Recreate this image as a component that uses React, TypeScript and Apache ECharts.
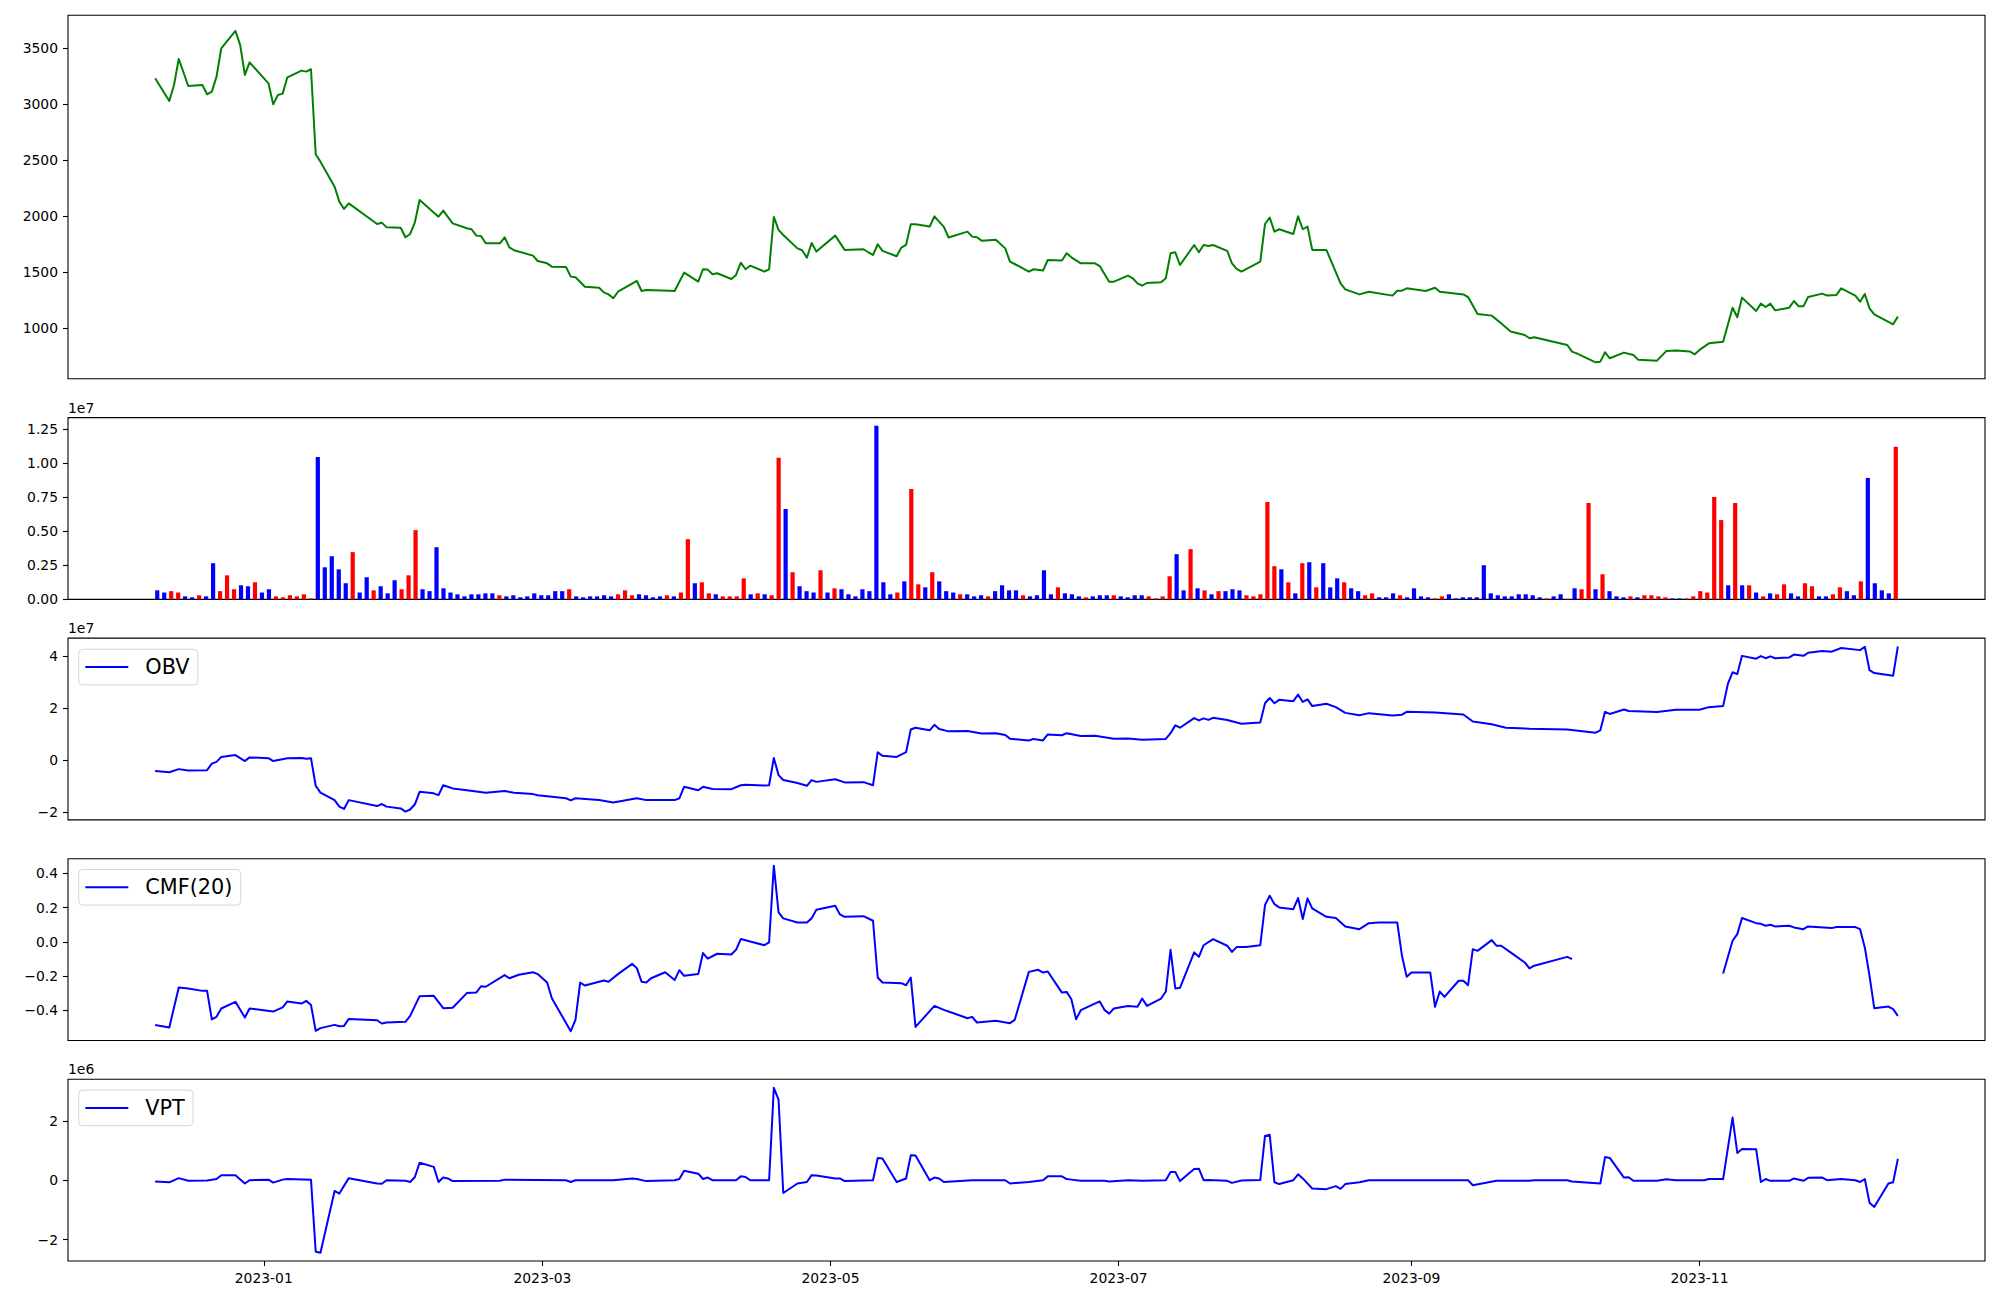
import React, { useEffect, useRef } from "react";
import * as echarts from "echarts";

const FONT = "DejaVu Sans";

// ---- x categories: KRX trading days between these dates ----
const START_DATE = "2022-12-09";
const END_DATE = "2023-12-13";
const KRX_HOLIDAYS = [
  "2022-12-30", "2023-01-23", "2023-01-24", "2023-03-01", "2023-05-01", "2023-05-05",
  "2023-05-29", "2023-06-06", "2023-08-15", "2023-09-28", "2023-09-29", "2023-10-02",
  "2023-10-03", "2023-10-09",
];
const X_TICK_MONTHS = ["2023-01", "2023-03", "2023-05", "2023-07", "2023-09", "2023-11"];

// ---- tick labels ----
const PRICE_TICKS = [1000, 1500, 2000, 2500, 3000, 3500];
const VOLUME_TICKS_E7 = [0, 0.25, 0.5, 0.75, 1.0, 1.25];
const OBV_TICKS_E7 = [-2, 0, 2, 4];
const CMF_TICKS = [-0.4, -0.2, 0, 0.2, 0.4];
const VPT_TICKS_E6 = [-2, 0, 2];

// ---- volume (x1e7), one bar per trading day ----
const VOLUME_E7 = [
  0.066, 0.05, 0.06, 0.05, 0.022, 0.015, 0.03, 0.022, 0.265, 0.06,
  0.176, 0.074, 0.103, 0.096, 0.125, 0.05, 0.074, 0.022, 0.015, 0.03,
  0.022, 0.037, 0.007, 1.044, 0.235, 0.316, 0.22, 0.118, 0.346, 0.05,
  0.162, 0.066, 0.096, 0.044, 0.14, 0.074, 0.176, 0.507, 0.074, 0.06,
  0.382, 0.081, 0.05, 0.037, 0.022, 0.037, 0.037, 0.044, 0.044, 0.03,
  0.022, 0.03, 0.015, 0.022, 0.044, 0.03, 0.03, 0.06, 0.06, 0.074,
  0.022, 0.015, 0.022, 0.022, 0.03, 0.022, 0.037, 0.066, 0.03, 0.037,
  0.03, 0.015, 0.022, 0.03, 0.022, 0.05, 0.441, 0.118, 0.125, 0.044,
  0.037, 0.022, 0.022, 0.022, 0.154, 0.037, 0.044, 0.037, 0.03, 1.037,
  0.662, 0.199, 0.096, 0.06, 0.05, 0.213, 0.05, 0.081, 0.074, 0.037,
  0.022, 0.074, 0.06, 1.272, 0.125, 0.037, 0.05, 0.132, 0.809, 0.11,
  0.088, 0.199, 0.132, 0.06, 0.05, 0.037, 0.037, 0.022, 0.03, 0.022,
  0.06, 0.103, 0.066, 0.066, 0.03, 0.022, 0.03, 0.213, 0.037, 0.088,
  0.044, 0.037, 0.022, 0.015, 0.022, 0.03, 0.03, 0.03, 0.022, 0.015,
  0.03, 0.03, 0.022, 0.007, 0.022, 0.169, 0.331, 0.066, 0.368, 0.081,
  0.066, 0.037, 0.06, 0.06, 0.074, 0.066, 0.03, 0.022, 0.037, 0.713,
  0.243, 0.22, 0.125, 0.044, 0.265, 0.272, 0.088, 0.265, 0.088, 0.154,
  0.125, 0.081, 0.06, 0.03, 0.044, 0.015, 0.015, 0.044, 0.03, 0.015,
  0.081, 0.022, 0.015, 0.007, 0.022, 0.037, 0.007, 0.015, 0.015, 0.015,
  0.25, 0.044, 0.03, 0.022, 0.022, 0.037, 0.037, 0.03, 0.015, 0.007,
  0.022, 0.037, 0.003, 0.081, 0.074, 0.706, 0.074, 0.184, 0.06, 0.022,
  0.015, 0.022, 0.015, 0.03, 0.03, 0.022, 0.015, 0.007, 0.007, 0.007,
  0.022, 0.06, 0.05, 0.75, 0.581, 0.103, 0.706, 0.103, 0.103, 0.05,
  0.022, 0.044, 0.037, 0.11, 0.044, 0.022, 0.118, 0.096, 0.022, 0.022,
  0.037, 0.088, 0.06, 0.03, 0.132, 0.89, 0.118, 0.066, 0.044, 1.118,
];
const VOLUME_COLOR =
  "BBRRBBRBBR" + "RRBBRBBRRR" + "RRRBBBBBRB" + "BRBBBRRRBB" + "BBBBBBBBBR" +
  "BBBBBBBBBR" + "BBBBBBRRRB" + "BBBRBRRBRR" + "BRRRRBRBRR" + "BRBBBRBRBB" +
  "BBBBBBRBRR" + "BRBBBRBBBR" + "BBBBRBBBBR" + "BBBRBBBRBB" + "BBRRRRBBRB" +
  "RBRBBBRRRR" + "RBRBRBRBBB" + "RBBRRBBBRB" + "BBBRRBBBBB" + "BBBBBBBBBR" +
  "BBRBRRBRBB" + "BRBRRRRBBR" + "RRRRRBRBRB" + "RBRRBBRRBB" + "RRBBRBBBBR";

// ---- line series: [trading-day index, value] ----
const PRICE = [
  [0, 3233], [1, 3030], [2, 3173], [3, 3406], [4, 3287], [5, 3164], [6, 3173], [7, 3090], [8, 3114], [9, 3248],
  [10, 3502], [11, 3657], [12, 3532], [13, 3263], [14, 3376], [15, 3188], [16, 3000], [17, 3084], [18, 3096], [19, 3242],
  [20, 3302], [21, 3293], [22, 3314], [23, 2553], [24, 2487], [25, 2263], [26, 2129], [27, 2064], [28, 2114], [30, 1929],
  [31, 1941], [32, 1899], [33, 1896], [34, 1810], [35, 1840], [36, 1944], [37, 2144], [39, 1995], [40, 2049], [42, 1935],
  [43, 1891], [44, 1882], [45, 1825], [46, 1822], [47, 1756], [48, 1756], [49, 1810], [50, 1720], [51, 1694], [53, 1646],
  [54, 1598], [55, 1577], [56, 1547], [57, 1544], [58, 1458], [59, 1452], [61, 1368], [62, 1359], [63, 1317], [64, 1299],
  [65, 1264], [66, 1323], [68, 1419], [69, 1329], [70, 1338], [73, 1332], [74, 1329], [76, 1494], [77, 1414], [78, 1524],
  [79, 1521], [80, 1479], [81, 1488], [82, 1437], [83, 1473], [84, 1583], [85, 1524], [86, 1556], [87, 1503], [88, 1524],
  [89, 1992], [90, 1876], [91, 1831], [92, 1711], [93, 1694], [94, 1628], [95, 1759], [96, 1682], [97, 1825], [99, 1697],
  [100, 1703], [101, 1676], [102, 1652], [103, 1748], [104, 1688], [105, 1640], [106, 1718], [107, 1742], [108, 1927], [109, 1927],
  [110, 1906], [111, 1998], [113, 1903], [114, 1808], [115, 1861], [116, 1816], [117, 1810], [118, 1780], [119, 1789], [120, 1711],
  [121, 1592], [122, 1571], [123, 1503], [124, 1524], [126, 1512], [127, 1607], [128, 1603], [129, 1667], [130, 1631], [132, 1577],
  [133, 1577], [134, 1553], [136, 1413], [137, 1413], [138, 1467], [139, 1443], [140, 1398], [141, 1377], [142, 1401], [143, 1407],
  [144, 1443], [145, 1667], [146, 1676], [147, 1562], [148, 1741], [149, 1676], [150, 1741], [151, 1732], [152, 1741], [153, 1688],
  [154, 1577], [155, 1527], [156, 1503], [158, 1592], [159, 1929], [160, 1986], [161, 1861], [162, 1882], [163, 1840], [164, 1998],
  [165, 1882], [166, 1906], [167, 1697], [168, 1697], [170, 1398], [171, 1344], [172, 1299], [174, 1323], [177, 1288], [178, 1332],
  [179, 1332], [180, 1353], [182, 1329], [184, 1359], [185, 1323], [188, 1299], [189, 1275], [191, 1124], [192, 1109], [194, 1040],
  [196, 966], [197, 936], [198, 906], [199, 915], [200, 846], [201, 787], [202, 771], [203, 691], [204, 697], [205, 781],
  [206, 727], [207, 778], [209, 757], [210, 715], [212, 706], [214, 793], [216, 796], [217, 787], [218, 763], [219, 802],
  [221, 861], [222, 876], [224, 1180], [225, 1094], [226, 1270], [227, 1151], [228, 1216], [229, 1186], [230, 1216], [231, 1156],
  [232, 1180], [233, 1240], [234, 1192], [235, 1192], [236, 1276], [237, 1306], [238, 1288], [240, 1294], [241, 1353], [242, 1288],
  [243, 1234], [244, 1303], [245, 1174], [246, 1121], [248, 1031], [249, 1100],
];

const OBV_E7 = [
  [0, -0.41], [1, -0.46], [3, -0.34], [5, -0.39], [7, -0.38], [8, -0.13], [9, -0.06], [10, 0.13], [11, 0.2], [13, -0.03],
  [14, 0.11], [15, 0.08], [16, -0.03], [19, 0.08], [20, 0.09], [21, 0.06], [22, 0.08], [23, -0.98], [24, -1.24], [25, -1.53],
  [26, -1.78], [27, -1.87], [28, -1.53], [30, -1.76], [31, -1.68], [32, -1.78], [33, -1.85], [34, -1.97], [35, -1.89], [36, -1.69],
  [37, -1.21], [38, -1.27], [39, -1.34], [40, -0.96], [42, -1.08], [43, -1.15], [47, -1.25], [49, -1.18], [51, -1.25], [53, -1.3],
  [54, -1.34], [57, -1.46], [58, -1.54], [59, -1.46], [62, -1.53], [65, -1.62], [68, -1.46], [70, -1.53], [74, -1.53], [75, -1.46],
  [76, -1.02], [77, -1.15], [78, -1.02], [80, -1.1], [82, -1.11], [84, -0.96], [85, -0.94], [87, -0.97], [88, -0.96], [89, 0.09],
  [90, -0.57], [91, -0.76], [92, -0.87], [94, -0.98], [95, -0.76], [96, -0.83], [97, -0.73], [99, -0.85], [100, -0.84], [102, -0.96],
  [103, 0.31], [104, 0.17], [105, 0.13], [107, 0.31], [108, 1.18], [109, 1.25], [110, 1.15], [111, 1.36], [112, 1.2], [114, 1.11],
  [115, 1.12], [118, 1.03], [119, 1.04], [120, 0.97], [121, 0.83], [123, 0.76], [124, 0.82], [126, 0.76], [127, 0.99], [128, 0.96],
  [129, 1.04], [132, 0.93], [133, 0.94], [137, 0.83], [138, 0.84], [141, 0.79], [144, 0.82], [145, 1.04], [146, 1.34], [147, 1.25],
  [148, 1.62], [149, 1.53], [150, 1.61], [151, 1.55], [152, 1.63], [153, 1.55], [156, 1.4], [158, 1.45], [159, 2.19], [160, 2.39],
  [161, 2.19], [162, 2.32], [163, 2.27], [164, 2.52], [165, 2.24], [166, 2.34], [167, 2.08], [168, 2.17], [169, 2.04], [171, 1.82],
  [172, 1.73], [174, 1.81], [177, 1.72], [179, 1.75], [180, 1.86], [184, 1.83], [188, 1.76], [190, 1.49], [192, 1.38], [195, 1.25],
  [198, 1.21], [200, 1.18], [203, 1.06], [204, 1.15], [205, 1.86], [206, 1.78], [207, 1.95], [208, 1.89], [212, 1.85], [216, 1.94],
  [219, 1.94], [221, 2.04], [222, 2.08], [223, 2.93], [224, 3.38], [225, 3.31], [226, 4.01], [227, 3.9], [228, 4.0], [229, 3.92],
  [230, 3.99], [231, 3.92], [232, 3.95], [233, 4.06], [235, 4.01], [236, 4.13], [237, 4.2], [239, 4.17], [241, 4.31], [243, 4.23],
  [244, 4.36], [245, 3.46], [246, 3.35], [248, 3.25], [249, 4.37],
];

const CMF20 = [
  [0, -0.486], [1, -0.501], [3, -0.267], [5, -0.273], [6, -0.287], [7, -0.287], [8, -0.453], [9, -0.439], [10, -0.39], [11, -0.351],
  [13, -0.443], [14, -0.39], [16, -0.408], [18, -0.384], [19, -0.349], [20, -0.361], [21, -0.345], [22, -0.369], [23, -0.521], [24, -0.505],
  [25, -0.486], [26, -0.494], [27, -0.492], [28, -0.451], [30, -0.459], [31, -0.478], [32, -0.472], [34, -0.468], [35, -0.433], [37, -0.318],
  [38, -0.316], [40, -0.388], [42, -0.386], [43, -0.3], [45, -0.297], [46, -0.26], [47, -0.263], [49, -0.195], [50, -0.213], [52, -0.193],
  [53, -0.178], [54, -0.189], [55, -0.238], [56, -0.33], [58, -0.523], [59, -0.457], [60, -0.238], [61, -0.256], [63, -0.226], [64, -0.234],
  [66, -0.189], [67, -0.129], [68, -0.154], [69, -0.234], [70, -0.238], [71, -0.213], [72, -0.178], [74, -0.224], [75, -0.166], [76, -0.199],
  [77, -0.189], [78, -0.066], [79, -0.098], [81, -0.07], [82, -0.074], [83, -0.047], [84, 0.016], [86, 0.002], [87, -0.02], [88, -0.004],
  [89, 0.445], [90, 0.172], [91, 0.137], [92, 0.113], [94, 0.113], [95, 0.137], [96, 0.187], [97, 0.211], [98, 0.16], [99, 0.146],
  [100, 0.15], [102, 0.123], [103, -0.209], [104, -0.238], [106, -0.242], [107, -0.254], [108, -0.209], [109, -0.498], [111, -0.375], [113, -0.398],
  [114, -0.408], [115, -0.447], [116, -0.439], [117, -0.472], [119, -0.462], [121, -0.476], [122, -0.457], [123, -0.176], [125, -0.164], [126, -0.18],
  [127, -0.174], [128, -0.297], [129, -0.293], [130, -0.336], [131, -0.453], [132, -0.4], [134, -0.349], [135, -0.398], [136, -0.42], [137, -0.39],
  [138, -0.375], [140, -0.38], [141, -0.332], [142, -0.375], [143, -0.332], [144, -0.291], [145, -0.047], [146, -0.273], [147, -0.269], [148, -0.062],
  [149, -0.088], [150, -0.02], [152, 0.016], [153, -0.023], [154, -0.059], [155, -0.031], [157, -0.031], [158, -0.02], [159, 0.215], [160, 0.269],
  [161, 0.22], [162, 0.201], [163, 0.191], [164, 0.256], [165, 0.133], [166, 0.254], [167, 0.195], [168, 0.146], [169, 0.139], [171, 0.09],
  [172, 0.074], [174, 0.109], [176, 0.113], [178, 0.113], [179, -0.082], [180, -0.205], [181, -0.18], [183, -0.18], [184, -0.38], [185, -0.291],
  [186, -0.322], [187, -0.228], [188, -0.228], [189, -0.254], [190, -0.043], [191, -0.053], [192, 0.01], [193, -0.023], [194, -0.023], [196, -0.062],
  [197, -0.121], [198, -0.156], [199, -0.14], [200, -0.088], [201, -0.101], [202, null], [222, -0.185], [224, 0.006], [225, 0.045], [226, 0.139],
  [227, 0.109], [228, 0.105], [229, 0.094], [230, 0.1], [231, 0.09], [232, 0.094], [233, 0.084], [235, 0.074], [236, 0.09], [239, 0.08],
  [240, 0.086], [242, 0.086], [243, 0.074], [244, -0.033], [245, -0.199], [246, -0.388], [247, -0.379], [248, -0.394], [249, -0.433],
];

const VPT_E6 = [
  [0, -0.04], [1, -0.07], [3, 0.07], [5, -0.02], [7, -0.01], [9, 0.04], [10, 0.17], [11, 0.17], [13, -0.11], [14, 0.0],
  [15, 0.02], [16, -0.08], [18, 0.02], [19, 0.04], [22, 0.02], [23, -2.41], [24, -2.44], [25, -0.36], [26, -0.45], [28, 0.07],
  [30, -0.11], [31, -0.12], [32, 0.0], [34, -0.02], [35, -0.06], [36, 0.11], [37, 0.59], [38, 0.45], [39, -0.06], [40, 0.09],
  [41, 0.06], [42, -0.03], [48, -0.02], [49, 0.02], [57, 0.0], [58, -0.06], [59, 0.0], [65, 0.0], [67, 0.06], [68, 0.04],
  [70, -0.03], [74, 0.0], [75, 0.04], [76, 0.32], [77, 0.22], [78, 0.04], [79, 0.09], [80, 0.0], [83, 0.0], [84, 0.13],
  [85, 0.11], [86, 0.0], [88, 0.0], [89, 3.11], [90, 2.71], [91, -0.43], [92, -0.11], [94, -0.06], [95, 0.17], [96, 0.16],
  [97, 0.06], [98, 0.06], [99, -0.03], [102, 0.0], [103, 0.75], [104, 0.73], [105, -0.06], [107, 0.06], [108, 0.84], [109, 0.83],
  [110, 0.0], [111, 0.09], [112, 0.06], [113, -0.06], [116, 0.0], [120, 0.0], [121, -0.11], [123, -0.06], [126, 0.0], [127, 0.13],
  [128, 0.13], [129, 0.04], [130, 0.02], [132, -0.02], [135, -0.02], [136, -0.04], [138, 0.0], [141, -0.02], [144, 0.0], [145, 0.28],
  [146, 0.28], [147, -0.03], [148, 0.38], [149, 0.39], [150, 0.0], [151, 0.01], [153, -0.02], [154, -0.09], [156, -0.01], [158, 0.01],
  [159, 1.49], [160, 1.53], [161, -0.07], [162, -0.13], [163, 0.0], [164, 0.2], [165, 0.06], [167, -0.28], [168, -0.3], [169, -0.2],
  [170, -0.29], [171, -0.13], [172, -0.07], [174, 0.0], [189, 0.0], [190, -0.17], [193, -0.02], [198, -0.02], [199, 0.0], [200, 0.0],
  [201, -0.04], [204, -0.11], [205, 0.78], [206, 0.75], [207, 0.09], [208, 0.1], [209, -0.02], [212, -0.02], [214, 0.03], [216, 0.0],
  [220, 0.0], [221, 0.04], [222, 0.04], [224, 2.11], [225, 0.92], [226, 1.05], [227, 1.04], [228, -0.06], [229, 0.04], [230, -0.02],
  [232, -0.02], [233, 0.06], [235, -0.02], [236, 0.08], [237, 0.09], [238, 0.0], [241, 0.04], [242, 0.0], [243, -0.06], [244, 0.04],
  [245, -0.76], [246, -0.9], [247, -0.11], [248, -0.07], [249, 0.72],
];

// ---------------------------------------------------------------
const DAY_MS = 86400000;

function buildTradingDays(): number[] {
  const hol = new Set(KRX_HOLIDAYS);
  const t0 = Date.parse(START_DATE + "T00:00:00Z");
  const t1 = Date.parse(END_DATE + "T00:00:00Z");
  const out: number[] = [];
  for (let t = t0; t <= t1; t += DAY_MS) {
    const d = new Date(t);
    const wd = d.getUTCDay();
    const iso = d.toISOString().slice(0, 10);
    if (wd !== 0 && wd !== 6 && !hol.has(iso)) out.push(t);
  }
  return out;
}

const minus = (s: string) => s.replace("-", "\u2212");
const fmtFixed = (d: number) => (v: number) => minus(Number(v).toFixed(d));
const fmtMonth = (v: number) => {
  const d = new Date(Number(v));
  return d.getUTCFullYear() + "-" + String(d.getUTCMonth() + 1).padStart(2, "0");
};

function buildOption() {
  const days = buildTradingDays();
  const n = VOLUME_E7.length;
  const t0 = days[0];
  const t1 = days[days.length - 1];
  const pad = 0.05 * (t1 - t0);
  const barUnits = 0.6;
  const vSpan = n - 1 + barUnits;
  const vMin = -barUnits / 2 - 0.05 * vSpan;
  const vMax = n - 1 + barUnits / 2 + 0.05 * vSpan;

  const L = 68;
  const W = 1917;
  const H = 181.75;
  const grids = [
    { left: L, width: W, top: 15.3, height: 363.5 },
    { left: L, width: W, top: 417.6, height: H },
    { left: L, width: W, top: 638.15, height: H },
    { left: L, width: W, top: 858.7, height: H },
    { left: L, width: W, top: 1079.25, height: H },
  ].map((g) => ({ ...g, show: true, borderColor: "#000", borderWidth: 1.1, backgroundColor: "#fff" }));

  const labelStyle = { color: "#000", fontSize: 13.9, fontFamily: FONT };
  const monthTicks = X_TICK_MONTHS.map((m) => Date.parse(m + "-01T00:00:00Z"));

  // dates as millisecond values on a linear (value) axis
  const dateAxis = (gridIndex: number, showLabels: boolean) => ({
    type: "value",
    gridIndex,
    position: "bottom",
    min: t0 - pad,
    max: t1 + pad,
    splitLine: { show: false },
    axisLine: { show: false, onZero: false },
    axisTick: {
      show: showLabels,
      inside: false,
      length: 5,
      lineStyle: { color: "#000", width: 1.1 },
      customValues: monthTicks,
    },
    axisLabel: {
      show: showLabels,
      customValues: monthTicks,
      formatter: fmtMonth,
      margin: 10,
      hideOverlap: false,
      ...labelStyle,
    },
  });

  const yAxis = (gridIndex: number, min: number, max: number, ticks: number[], fmt: any, name?: string) => ({
    type: "value",
    gridIndex,
    position: "left",
    min,
    max,
    splitLine: { show: false },
    axisLine: { show: false, onZero: false },
    axisTick: {
      show: true,
      inside: false,
      length: 5,
      lineStyle: { color: "#000", width: 1.1 },
      customValues: ticks,
    },
    axisLabel: { show: true, customValues: ticks, formatter: fmt, margin: 10, ...labelStyle },
    name: name || "",
    nameLocation: "end",
    nameGap: 3,
    nameTextStyle: { ...labelStyle, align: "left", verticalAlign: "bottom" },
  });

  const legendBase = {
    left: 78.7,
    orient: "horizontal",
    selectedMode: false,
    icon: "path://M0,0H42V2H0Z",
    itemWidth: 43,
    itemHeight: 14,
    padding: [5.8, 8.3, 5.8, 6.6],
    borderColor: "#d6d6d6",
    borderWidth: 1,
    borderRadius: 4,
    backgroundColor: "rgba(255,255,255,0.8)",
    textStyle: { color: "#000", fontSize: 20.8, fontFamily: FONT, lineHeight: 24, padding: [0, 0, 0, 12] },
  };

  const toXY = (pts: (number | null)[][]) =>
    pts.map(([i, v]) => [days[i as number], v === null ? "-" : v]);

  const lineSeries = (name: string, axis: number, data: any[], color: string) => ({
    name,
    type: "line",
    xAxisIndex: axis,
    yAxisIndex: axis,
    data,
    color,
    symbol: "none",
    showSymbol: false,
    connectNulls: false,
    silent: true,
    lineStyle: { color, width: 2, join: "round", cap: "butt" },
    itemStyle: { color },
  });

  return {
    animation: false,
    backgroundColor: "#fff",
    textStyle: { fontFamily: FONT },
    grid: grids,
    xAxis: [
      dateAxis(0, false),
      {
        type: "value",
        gridIndex: 1,
        position: "bottom",
        min: vMin,
        max: vMax,
        axisLine: { show: false, onZero: false },
        axisTick: { show: false },
        axisLabel: { show: false },
        splitLine: { show: false },
      },
      dateAxis(2, false),
      dateAxis(3, false),
      dateAxis(4, true),
    ],
    yAxis: [
      yAxis(0, 543.5, 3797, PRICE_TICKS, (v: number) => String(v)),
      yAxis(1, 0, 1.332, VOLUME_TICKS_E7, fmtFixed(2), "1e7"),
      yAxis(2, -2.29, 4.69, OBV_TICKS_E7, fmtFixed(0), "1e7"),
      yAxis(3, -0.577, 0.486, CMF_TICKS, fmtFixed(1)),
      yAxis(4, -2.72, 3.4, VPT_TICKS_E6, fmtFixed(0), "1e6"),
    ],
    legend: [
      { ...legendBase, top: 649.3, data: ["OBV"] },
      { ...legendBase, top: 869.5, data: ["CMF(20)"] },
      { ...legendBase, top: 1090.1, data: ["VPT"] },
    ],
    series: [
      lineSeries("Close", 0, toXY(PRICE), "#008000"),
      {
        name: "Volume",
        type: "bar",
        xAxisIndex: 1,
        yAxisIndex: 1,
        barWidth: 4.2,
        silent: true,
        data: VOLUME_E7.map((v, i) => ({
          value: [i, v],
          itemStyle: { color: VOLUME_COLOR[i] === "R" ? "#ff0000" : "#0000ff" },
        })),
      },
      lineSeries("OBV", 2, toXY(OBV_E7), "#0000ff"),
      lineSeries("CMF(20)", 3, toXY(CMF20), "#0000ff"),
      lineSeries("VPT", 4, toXY(VPT_E6), "#0000ff"),
    ],
  };
}

export default function App() {
  const ref = useRef<HTMLDivElement>(null);
  useEffect(() => {
    if (!ref.current) return;
    const chart = echarts.init(ref.current, null, { renderer: "svg" });
    chart.setOption(buildOption() as any);
    return () => chart.dispose();
  }, []);
  return (
    <div
      ref={ref}
      style={{ position: "fixed", left: 0, top: 0, width: 2000, height: 1300, background: "#fff" }}
    />
  );
}
